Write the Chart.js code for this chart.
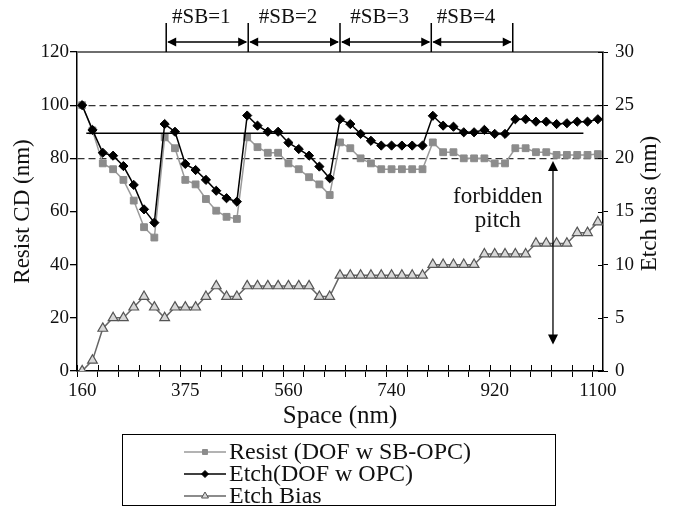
<!DOCTYPE html>
<html>
<head>
<meta charset="utf-8">
<script src="https://cdn.jsdelivr.net/npm/chart.js@4.4.1/dist/chart.umd.min.js"></script>
<style>
  html, body { margin: 0; padding: 0; background: #fff; }
</style>
</head>
<body>
<canvas id="c" width="679" height="508"></canvas>
<script>
// values (left axis nm, right axis nm)
const resist = [100, 90.5, 78.1, 75.9, 71.9, 64.1, 54.1, 50.2,
  87.9, 83.8, 71.9, 70.2, 64.7, 60.3, 58.0, 57.2,
  87.9, 84.2, 82.1, 82.1, 78.1, 75.9, 72.9, 70.2, 66.2,
  86.0, 83.8, 80.0, 78.1, 75.9, 75.9, 75.9, 75.9, 75.9,
  86.0, 82.3, 82.3, 80.0, 80.0, 80.0, 78.1, 78.1,
  83.8, 83.8, 82.3, 82.3, 81.3, 81.3, 81.3, 81.3, 81.6];
const etch = [100, 90.7, 82.1, 81.0, 77.1, 70.0, 60.8, 55.8,
  92.9, 90.0, 77.9, 75.6, 71.9, 67.8, 65.0, 63.7,
  96.1, 92.3, 90.0, 90.0, 85.9, 83.5, 81.0, 76.9, 72.5,
  94.7, 92.9, 89.2, 86.6, 84.8, 84.8, 84.8, 84.8, 84.8,
  96.0, 92.3, 91.9, 89.8, 89.8, 90.7, 89.2, 89.2,
  94.7, 94.7, 93.8, 93.8, 92.9, 93.2, 93.8, 93.8, 94.7];
const etchBias = [0, 1, 4, 5, 5, 6, 7, 6, 5, 6, 6, 6, 7, 8, 7, 7,
  8, 8, 8, 8, 8, 8, 8, 7, 7,
  9, 9, 9, 9, 9, 9, 9, 9, 9,
  10, 10, 10, 10, 10, 11, 11, 11, 11, 11,
  12, 12, 12, 12, 13, 13, 14];

const categories = resist.map((_, i) => i);
const tickAt = [0, 10, 20, 30, 40, 50];
const tickText = ['160', '375', '560', '740', '920', '1100'];

// annotations (in data units / category index)
const sbEdges = [8.15, 16.1, 25, 33.85, 41.75];
const sbLabels = ['#SB=1', '#SB=2', '#SB=3', '#SB=4'];
const refLevel = 89.4, refFrom = 0.4, refTo = 48.6;
const pitchAt = 45.65, pitchTop = 79, pitchBottom = 10;
const pitchText = ['forbidden', 'pitch'];
const pitchTextAt = 40.3, pitchTextY = [65.6, 56.6];

const serif = "'Liberation Serif', 'Times New Roman', serif";

function arrowHead(ctx, x, y, dx, dy, len, half) {
  ctx.beginPath();
  ctx.moveTo(x, y);
  ctx.lineTo(x - dx * len - dy * half, y - dy * len + dx * half);
  ctx.lineTo(x - dx * len + dy * half, y - dy * len - dx * half);
  ctx.closePath();
  ctx.fill();
}

function marker(ctx, style, x, y, r) {
  ctx.beginPath();
  if (style === 'rect') {
    const s = r * Math.SQRT1_2;
    ctx.rect(x - s, y - s, 2 * s, 2 * s);
  } else if (style === 'rectRot') {
    ctx.moveTo(x, y - r); ctx.lineTo(x + r, y); ctx.lineTo(x, y + r); ctx.lineTo(x - r, y);
    ctx.closePath();
  } else {
    const h = r * 0.866;
    ctx.moveTo(x, y - r); ctx.lineTo(x + h, y + r / 2); ctx.lineTo(x - h, y + r / 2);
    ctx.closePath();
  }
  ctx.fill();
  ctx.stroke();
}

const extras = {
  id: 'extras',
  afterDatasetsDraw(chart) {
    const {ctx, chartArea: a, scales: {x, y, y2}} = chart;
    ctx.save();

    // top frame
    ctx.strokeStyle = '#6e6e6e';
    ctx.lineWidth = 2;
    ctx.beginPath(); ctx.moveTo(a.left, a.top); ctx.lineTo(a.right, a.top); ctx.stroke();

    // inner halves of the x ticks and right ticks
    ctx.strokeStyle = '#000';
    ctx.lineWidth = 1;
    ctx.beginPath();
    for (let i = 0; i < categories.length; i += 2) {
      const px = Math.round(x.getPixelForValue(i - 0.5)) + 0.5;
      ctx.moveTo(px, a.bottom); ctx.lineTo(px, a.bottom - 6);
    }
    y2.ticks.forEach(t => {
      const py = Math.round(y2.getPixelForValue(t.value)) + 0.5;
      ctx.moveTo(a.right, py); ctx.lineTo(a.right - 5, py);
    });
    ctx.stroke();

    // threshold line
    ctx.lineWidth = 1.5;
    ctx.beginPath();
    const ry = y.getPixelForValue(refLevel);
    ctx.moveTo(x.getPixelForValue(refFrom), ry);
    ctx.lineTo(x.getPixelForValue(refTo), ry);
    ctx.stroke();

    // forbidden pitch arrow
    ctx.fillStyle = '#000';
    const fx = x.getPixelForValue(pitchAt);
    const fy0 = y.getPixelForValue(pitchTop), fy1 = y.getPixelForValue(pitchBottom);
    ctx.lineWidth = 1.3;
    ctx.beginPath(); ctx.moveTo(fx, fy0 + 6); ctx.lineTo(fx, fy1 - 6); ctx.stroke();
    arrowHead(ctx, fx, fy0, 0, -1, 10, 5);
    arrowHead(ctx, fx, fy1, 0, 1, 10, 5);

    ctx.font = '23px ' + serif;
    ctx.textAlign = 'center';
    ctx.textBaseline = 'middle';
    ctx.fillStyle = '#111';
    pitchText.forEach((t, i) => {
      ctx.fillText(t, x.getPixelForValue(pitchTextAt), y.getPixelForValue(pitchTextY[i]));
    });
    ctx.restore();
  },
  afterDraw(chart) {
    const {ctx, chartArea: a, scales: {x}} = chart;
    ctx.save();
    ctx.strokeStyle = '#000';
    ctx.fillStyle = '#000';

    // #SB brackets
    const xs = sbEdges.map(v => x.getPixelForValue(v));
    ctx.lineWidth = 1.5;
    ctx.beginPath();
    xs.forEach(px => { ctx.moveTo(px, a.top - 29); ctx.lineTo(px, a.top); });
    const ay = a.top - 10;
    for (let i = 0; i < xs.length - 1; i++) {
      ctx.moveTo(xs[i] + 2, ay); ctx.lineTo(xs[i + 1] - 2, ay);
    }
    ctx.stroke();
    ctx.font = '21px ' + serif;
    ctx.textAlign = 'center';
    ctx.textBaseline = 'middle';
    for (let i = 0; i < xs.length - 1; i++) {
      arrowHead(ctx, xs[i] + 1, ay, -1, 0, 9, 4.5);
      arrowHead(ctx, xs[i + 1] - 1, ay, 1, 0, 9, 4.5);
      ctx.fillStyle = '#111';
      ctx.fillText(sbLabels[i], (xs[i] + xs[i + 1]) / 2 - 6, a.top - 35);
      ctx.fillStyle = '#000';
    }

    // right axis title, reading upwards
    ctx.save();
    ctx.fillStyle = '#111';
    ctx.font = '23px ' + serif;
    ctx.translate(650, (a.top + a.bottom) / 2 - 8);
    ctx.rotate(-Math.PI / 2);
    ctx.fillText('Etch bias (nm)', 0, 0);
    ctx.restore();

    // legend box
    ctx.lineWidth = 1;
    ctx.strokeStyle = '#000';
    ctx.strokeRect(122.5, 434.5, 433, 71);
    ctx.font = '24px ' + serif;
    ctx.textAlign = 'left';
    chart.data.datasets.forEach((ds, i) => {
      const ly = 452 + i * 22;
      ctx.strokeStyle = ds.borderColor;
      ctx.lineWidth = 1.5;
      ctx.beginPath(); ctx.moveTo(184, ly); ctx.lineTo(226, ly); ctx.stroke();
      ctx.fillStyle = ds.pointBackgroundColor;
      ctx.strokeStyle = ds.pointBorderColor;
      ctx.lineWidth = 1;
      marker(ctx, ds.pointStyle, 205, ly, ds.pointStyle === 'triangle' ? 4 : 3.5);
      ctx.fillStyle = '#111';
      ctx.fillText(ds.label, 229, ly + 1);
    });
    ctx.restore();
  }
};

new Chart(document.getElementById('c'), {
  type: 'line',
  data: {
    labels: categories,
    datasets: [
      {
        label: 'Resist (DOF w SB-OPC)',
        data: resist,
        yAxisID: 'y',
        order: 1,
        borderColor: '#9a9a9a',
        borderWidth: 1.5,
        pointStyle: 'rect',
        pointRadius: 4.8,
        pointBackgroundColor: '#8c8c8c',
        pointBorderColor: '#8c8c8c',
        pointBorderWidth: 1
      },
      {
        label: 'Etch(DOF w OPC)',
        data: etch,
        yAxisID: 'y',
        order: 0,
        borderColor: '#000',
        borderWidth: 1.5,
        pointStyle: 'rectRot',
        pointRadius: 4.6,
        pointBackgroundColor: '#000',
        pointBorderColor: '#000',
        pointBorderWidth: 1
      },
      {
        label: 'Etch Bias',
        data: etchBias,
        yAxisID: 'y2',
        order: 2,
        borderColor: '#666',
        borderWidth: 1.5,
        pointStyle: 'triangle',
        pointRadius: 5.6,
        pointBackgroundColor: '#d8d8d8',
        pointBorderColor: '#555',
        pointBorderWidth: 1.2
      }
    ]
  },
  options: {
    responsive: false,
    animation: false,
    devicePixelRatio: 1,
    layout: { padding: { top: 52, bottom: 71, left: 0, right: 0 } },
    plugins: { legend: { display: false }, tooltip: { enabled: false } },
    scales: {
      x: {
        type: 'category',
        offset: true,
        afterFit: s => { s.height = 66; },
        grid: {
          offset: true,
          drawOnChartArea: false,
          tickLength: 6,
          color: c => (c.index % 2 === 0 ? '#000' : 'rgba(0,0,0,0)'),
          tickColor: c => (c.index % 2 === 0 ? '#000' : 'rgba(0,0,0,0)')
        },
        border: { color: '#000', width: 1.5 },
        ticks: {
          autoSkip: false,
          maxRotation: 0,
          minRotation: 0,
          padding: 3,
          color: '#111',
          font: { family: serif, size: 19 },
          callback: (v, i) => {
            const k = tickAt.indexOf(i);
            return k >= 0 ? tickText[k] : '';
          }
        },
        title: {
          display: true,
          text: 'Space (nm)',
          color: '#111',
          font: { family: serif, size: 25 },
          padding: { top: 4, bottom: 6 }
        }
      },
      y: {
        position: 'left',
        min: 0,
        max: 120,
        afterFit: s => { s.width = 77; },
        ticks: { stepSize: 20, padding: 1, color: '#111', font: { family: serif, size: 19 } },
        grid: {
          tickLength: 7,
          lineWidth: 1.3,
          color: c => (c.tick && (c.tick.value === 100 || c.tick.value === 80) ? '#333' : 'rgba(0,0,0,0)'),
          tickColor: '#000'
        },
        border: { color: '#000', width: 1.5, dash: [7, 4] },
        title: {
          display: true,
          text: 'Resist CD (nm)',
          color: '#111',
          font: { family: serif, size: 23 },
          padding: { top: 9, bottom: 4 }
        }
      },
      y2: {
        position: 'right',
        min: 0,
        max: 30,
        afterFit: s => { s.width = 76; },
        ticks: { stepSize: 5, padding: 7, color: '#111', font: { family: serif, size: 19 } },
        grid: { drawOnChartArea: false, tickLength: 5, color: '#000' },
        border: { color: '#000', width: 1.5 }
      }
    }
  },
  plugins: [extras]
});
</script>
</body>
</html>
